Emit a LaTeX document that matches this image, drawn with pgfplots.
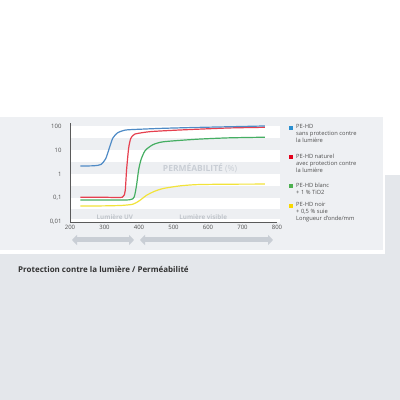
\documentclass[border=0pt]{standalone}
\usepackage{pgfplots}
\pgfplotsset{compat=1.18}
\usepackage{fontspec}
\setmainfont{Open Sans}
\usetikzlibrary{arrows.meta}
\definecolor{panel}{HTML}{EEF0F3}
\definecolor{bottomgray}{HTML}{E4E7EB}
\definecolor{bandgray}{HTML}{EDEFF2}
\definecolor{cblue}{HTML}{4F8BC6}
\definecolor{cred}{HTML}{E6404F}
\definecolor{cgreen}{HTML}{45AE62}
\definecolor{cyellow}{HTML}{F2E33A}
\definecolor{lblue}{HTML}{2A8FD0}
\definecolor{lred}{HTML}{E3001B}
\definecolor{lgreen}{HTML}{4DB050}
\definecolor{lyellow}{HTML}{F8D800}
\definecolor{faint}{HTML}{C9CED5}
\definecolor{txt}{HTML}{505050}
\definecolor{axisc}{HTML}{5A5A5A}
\begin{document}
\begin{tikzpicture}
\useasboundingbox (0,0) rectangle (400bp,400bp);
\fill[white] (0,0) rectangle (400bp,400bp);
\begin{scope}[x=1bp,y=-1bp,shift={(0,400bp)}]
\fill[panel] (0,117) rectangle (383,250);
\fill[bottomgray] (0,254) rectangle (400,400);
\fill[bottomgray] (385,175) rectangle (400,254);
\node[anchor=base west,inner sep=0,text=black!80,font=\bfseries\fontsize{8}{9}\selectfont] at (18,273) {Protection contre la lumière / Perméabilité};
\draw[faint,line width=5bp,{Triangle[width=10bp,length=5bp]}-{Triangle[width=10bp,length=5bp]}] (72,240) -- (134,240);
\draw[faint,line width=5bp,{Triangle[width=10bp,length=5bp]}-{Triangle[width=10bp,length=5bp]}] (140,240) -- (273,240);
% legend
\fill[lblue] (289,126) rectangle (293,130);
\node[anchor=north west,inner sep=0,align=left,text=txt,font=\fontsize{5.8}{7}\selectfont] at (296,124.5) {PE-HD\\sans protection contre\\la lumière};
\fill[lred] (289,155) rectangle (293,159);
\node[anchor=north west,inner sep=0,align=left,text=txt,font=\fontsize{5.8}{7}\selectfont] at (296,153.5) {PE-HD naturel\\avec protection contre\\la lumière};
\fill[lgreen] (289,184) rectangle (293,188);
\node[anchor=north west,inner sep=0,align=left,text=txt,font=\fontsize{5.8}{7}\selectfont] at (296,182.5) {PE-HD blanc\\+ 1 \% TiO2};
\fill[lyellow] (289,204) rectangle (293,208);
\node[anchor=north west,inner sep=0,align=left,text=txt,font=\fontsize{5.8}{7}\selectfont] at (296,202.5) {PE-HD noir\\+ 0,5 \% suie\\Longueur d'onde/mm};
\end{scope}
\begin{axis}[
  at={(70bp,178bp)}, anchor=south west,
  scale only axis, width=207bp, height=99bp,
  xmin=200, xmax=800, ymode=log, ymin=0.01, ymax=133,
  axis lines*=left, axis line style={axisc,line width=0.9bp},
  axis on top,
  clip=false,
  xtick={200,300,400,500,600,700,800},
  ytick={0.01,0.1,1,10,100},
  yticklabels={{0,01},{0,1},1,10,100},
  major tick length=0pt, minor tick num=0,
  yminorticks=false,
  tick label style={font=\fontsize{6}{7}\selectfont,text=txt},
  yticklabel style={xshift=-5bp},
  /pgf/number format/assume math mode=true,
]
\fill[white] (axis cs:200,0.01) rectangle (axis cs:808,100);
\fill[bandgray] (axis cs:200,10) rectangle (axis cs:808,31.6);
\fill[bandgray] (axis cs:200,1) rectangle (axis cs:808,3.16);
\fill[bandgray] (axis cs:200,0.1) rectangle (axis cs:808,0.316);
\fill[bandgray] (axis cs:200,0.013) rectangle (axis cs:808,0.035);
\node[text=faint,font=\fontsize{8.5}{9}\selectfont] at (axis cs:577,1.78) {\textbf{PERMÉABILITÉ} (\%)};
\node[text=faint!95!black,font=\bfseries\fontsize{6.3}{7}\selectfont] at (axis cs:330,0.016) {Lumière UV};
\node[text=faint!95!black,font=\bfseries\fontsize{6.3}{7}\selectfont] at (axis cs:586,0.016) {Lumière visible};
\addplot[cyellow,line width=1.2bp,smooth,tension=0.4] coordinates {
(230,0.046) (300,0.047) (350,0.049) (382,0.055) (400,0.075) (422,0.13) (445,0.19) (471,0.25) (519,0.32) (567,0.36) (650,0.375) (765,0.38)};
\addplot[cgreen,line width=1.2bp,smooth,tension=0.4] coordinates {
(230,0.083) (300,0.083) (372,0.084) (386,0.11) (393,0.35) (399,1.5) (406,4.0) (418,9.5) (440,16.5) (471,22) (567,28) (660,32) (765,34)};
\addplot[cred,line width=1.2bp,smooth,tension=0.35] coordinates {
(230,0.107) (300,0.107) (352,0.108) (360,0.2) (364,1.5) (370,12) (376,30) (388,46) (432,58) (500,66) (567,73) (665,83) (765,88)};
\addplot[cblue,line width=1.2bp,smooth,tension=0.4] coordinates {
(230,2.15) (270,2.2) (290,2.5) (304,4.5) (314,12) (324,31) (338,52) (362,68) (411,74) (471,80) (567,87) (664,93) (765,100)};
\end{axis}
\end{tikzpicture}
\end{document}
